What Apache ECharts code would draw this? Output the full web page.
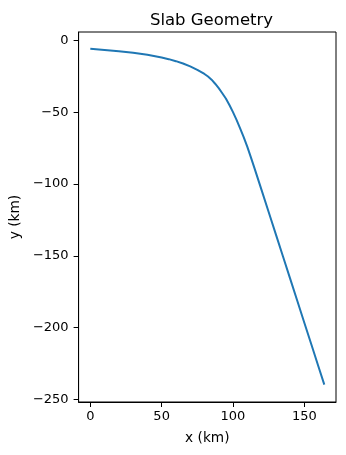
<!DOCTYPE html>
<html>
<head>
<meta charset="utf-8">
<script src="https://cdn.jsdelivr.net/npm/echarts@6/dist/echarts.min.js"></script>
<style>html,body{margin:0;padding:0;background:#fff}#c{width:346px;height:455px}</style>
</head>
<body>
<div id="c"></div>
<script>
const xKm = [0, 10, 20, 30, 40, 50, 55, 60, 65, 70, 75, 80, 82.5, 85, 87.5, 90, 92.5, 95, 97.5, 100, 102.5, 105, 107.5, 110, 112.5, 115, 120, 125, 130, 135, 140, 145, 150, 155, 160, 164];
const yKm = [-5.9, -6.7, -7.6, -8.7, -10.1, -12.0, -13.1, -14.5, -16.1, -18.1, -20.5, -23.4, -25.2, -27.4, -30.2, -33.3, -36.8, -40.5, -45.0, -50.0, -55.4, -61.2, -67.3, -74.0, -81.3, -88.8, -104.1, -119.5, -134.9, -150.3, -165.7, -181.1, -196.5, -211.9, -227.3, -239.6];
const xTicks = [0, 50, 100, 150];
const yTicks = [0, -50, -100, -150, -200, -250];
const titleText = 'Slab Geometry';
const xName = 'x (km)';
const yName = 'y (km)';

const font = 'DejaVu Sans';
const fmt = v => (v < 0 ? '\u2212' + Math.abs(v) : String(v));
const chart = echarts.init(document.getElementById('c'), null, {renderer: 'canvas'});
chart.setOption({
  animation: false,
  title: {
    text: titleText, left: 206.5, top: 7, textAlign: 'center',
    textStyle: {fontFamily: font, fontSize: 16.5, fontWeight: 'normal', color: '#000'}
  },
  grid: {left: 77, right: 10, top: 32, bottom: 53, show: true, borderColor: '#000', borderWidth: 1, containLabel: false},
  xAxis: {
    type: 'value', min: -8.2, max: 172.2,
    name: xName, nameLocation: 'middle', nameGap: 29,
    nameTextStyle: {fontFamily: font, fontSize: 13.7, color: '#000'},
    axisLine: {show: true, onZero: false, lineStyle: {color: '#000', width: 1}},
    axisTick: {show: true, length: 5, customValues: xTicks, lineStyle: {color: '#000'}},
    axisLabel: {customValues: xTicks, formatter: fmt, fontFamily: font, fontSize: 13, color: '#000', margin: 8},
    splitLine: {show: false}
  },
  yAxis: {
    type: 'value', min: -251.7, max: 5.8,
    name: yName, nameLocation: 'middle', nameGap: 52,
    nameTextStyle: {fontFamily: font, fontSize: 13.7, color: '#000'},
    axisLine: {show: true, onZero: false, lineStyle: {color: '#000', width: 1}},
    axisTick: {show: true, length: 5, customValues: yTicks, lineStyle: {color: '#000'}},
    axisLabel: {customValues: yTicks, formatter: fmt, fontFamily: font, fontSize: 13, color: '#000', margin: 10},
    splitLine: {show: false}
  },
  series: [{
    type: 'line',
    data: xKm.map((x, i) => [x, yKm[i]]),
    showSymbol: false,
    smooth: false,
    lineStyle: {color: '#1f77b4', width: 2},
    itemStyle: {color: '#1f77b4'}
  }]
});
</script>
</body>
</html>
